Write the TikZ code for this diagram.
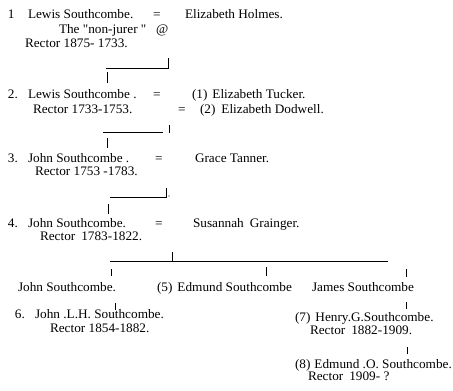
\documentclass[tikz,border=0pt]{standalone}
\usepackage{fontspec}
\setmainfont{Liberation Serif}[Ligatures=TeXOff,FakeStretch=1.02]
\begin{document}
\begin{tikzpicture}[x=1pt,y=-1pt,
  txt/.style={anchor=base west,inner sep=0pt,outer sep=0pt,font=\fontsize{13}{15}\selectfont},
  ln/.style={line width=0.7pt}]
\useasboundingbox (0,0) rectangle (453,391);
% row 1
\node[txt] (n1) at (8,18) {1};
\node[txt] (p1) at (28,18) {Lewis Southcombe.};
\node[txt] (e1) at (153,18) {=};
\node[txt] (w1) at (185,18) {Elizabeth Holmes.};
\node[txt] (p1b) at (59,33) {The "non-jurer "};
\node[txt] (at1) at (156,33) {@};
\node[txt] (p1c) at (25,47) {Rector 1875- 1733.};
% connector 1
\coordinate (a1) at (106,68); \coordinate (b1) at (168,68); \coordinate (t1) at (168,58);
\coordinate (d1a) at (107,72); \coordinate (d1b) at (107,83);
\draw[ln] (a1) -- (b1) -- (t1);
\draw[ln] (d1a) -- (d1b);
% row 2
\node[txt] (n2) at (8,98) {2.};
\node[txt] (p2) at (28,98) {Lewis Southcombe .};
\node[txt] (e2) at (153,98) {=};
\node[txt] (w2) at (192,98) {(1)\hspace{5pt}Elizabeth Tucker.};
\node[txt] (p2b) at (33,113) {Rector 1733-1753.};
\node[txt] (e2b) at (178,113) {=};
\node[txt] (w2b) at (200,113) {(2)\hspace{6pt}Elizabeth Dodwell.};
% connector 2
\coordinate (a2) at (103,132); \coordinate (b2) at (163,132);
\coordinate (t2a) at (169,125); \coordinate (t2b) at (169,133);
\coordinate (d2a) at (107,138); \coordinate (d2b) at (107,148);
\draw[ln] (a2) -- (b2);
\draw[ln] (t2a) -- (t2b);
\draw[ln] (d2a) -- (d2b);
% row 3
\node[txt] (n3) at (8,162) {3.};
\node[txt] (p3) at (28,162) {John Southcombe .};
\node[txt] (e3) at (155,162) {=};
\node[txt] (w3) at (195,162) {Grace Tanner.};
\node[txt] (p3b) at (35,175) {Rector 1753 -1783.};
% connector 3
\coordinate (a3) at (110,197); \coordinate (b3) at (166,197); \coordinate (t3) at (166,188);
\coordinate (d3a) at (108,204); \coordinate (d3b) at (108,214);
\draw[ln] (a3) -- (b3) -- (t3);
\draw[ln] (d3a) -- (d3b);
\fill (169,196) circle (0.6pt);
% row 4
\node[txt] (n4) at (8,227) {4.};
\node[txt] (p4) at (28,227) {John Southcombe.};
\node[txt] (e4) at (155,227) {=};
\node[txt] (w4) at (193,227) {Susannah\hspace{6pt}Grainger.};
\node[txt] (p4b) at (40,240) {Rector\hspace{6pt}1783-1822.};
% connector 4
\coordinate (a4) at (110,261); \coordinate (b4) at (388,261);
\coordinate (u4a) at (172,252); \coordinate (u4b) at (172,261);
\coordinate (k1a) at (111,269); \coordinate (k1b) at (111,276);
\coordinate (k2a) at (266,267); \coordinate (k2b) at (266,276);
\coordinate (k3a) at (406,269); \coordinate (k3b) at (406,277);
\draw[ln] (a4) -- (b4);
\draw[ln] (u4a) -- (u4b);
\draw[ln] (k1a) -- (k1b);
\draw[ln] (k2a) -- (k2b);
\draw[ln] (k3a) -- (k3b);
% row 5
\node[txt] (c1) at (18,291) {John Southcombe.};
\node[txt] (c2) at (157,291) {(5)\hspace{5pt}Edmund Southcombe};
\node[txt] (c3) at (312,291) {James Southcombe};
% connectors 5
\coordinate (v1a) at (115,303); \coordinate (v1b) at (115,310);
\coordinate (v2a) at (406,302); \coordinate (v2b) at (406,309);
\draw[ln] (v1a) -- (v1b);
\draw[ln] (v2a) -- (v2b);
% row 6
\node[txt] (n6) at (15,318) {6.};
\node[txt] (g6) at (35,318) {John .L.H. Southcombe.};
\node[txt] (g6b) at (50,332) {Rector 1854-1882.};
\node[txt] (g7) at (295,321) {(7)\hspace{5pt}Henry.G.Southcombe.};
\node[txt] (g7b) at (310,334) {Rector\hspace{6pt}1882-1909.};
\coordinate (v3a) at (407,347); \coordinate (v3b) at (407,354);
\draw[ln] (v3a) -- (v3b);
\node[txt] (g8) at (295,368) {(8)\hspace{4pt}Edmund .O. Southcombe.};
\node[txt] (g8b) at (308,380) {Rector\hspace{6pt}1909- ?};
\end{tikzpicture}
\end{document}
